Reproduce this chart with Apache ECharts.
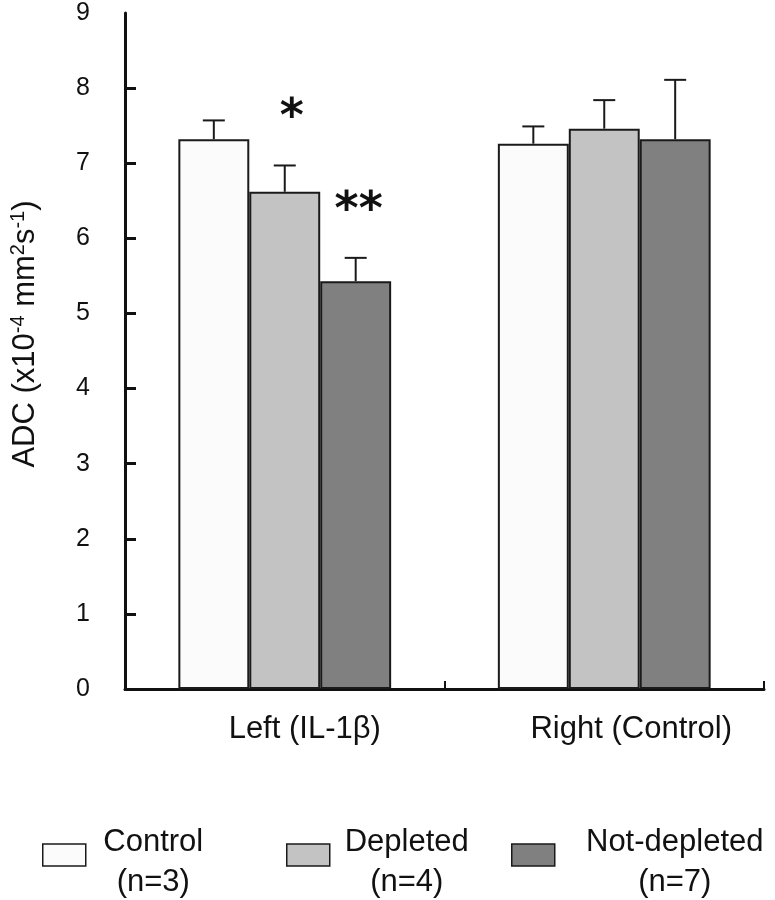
<!DOCTYPE html>
<html>
<head>
<meta charset="utf-8">
<script src="https://cdn.jsdelivr.net/npm/echarts@6/dist/echarts.min.js"></script>
<style>html,body{margin:0;padding:0;background:#fff}#c{width:775px;height:900px}</style>
</head>
<body>
<div id="c"></div>
<script>
// ---- data ----
const categories = ['Left (IL-1\u03b2)', 'Right (Control)'];
const seriesNames = ['Control', 'Depleted', 'Not-depleted'];
const groupSizes = ['(n=3)', '(n=4)', '(n=7)'];
const controlMean = [7.32, 7.26];
const controlErr = [0.25, 0.23];
const depletedMean = [6.62, 7.46];
const depletedErr = [0.35, 0.38];
const notDepletedMean = [5.43, 7.32];
const notDepletedErr = [0.31, 0.79];
const controlSig = ['', ''];
const depletedSig = ['*', ''];
const notDepletedSig = ['**', ''];
const yTicks = [0, 1, 2, 3, 4, 5, 6, 7, 8, 9];

const means = [controlMean, depletedMean, notDepletedMean];
const errs = [controlErr, depletedErr, notDepletedErr];
const sigs = [controlSig, depletedSig, notDepletedSig];
const colors = ['#fbfbfb', '#c3c3c3', '#808080'];
const FONT = '"Liberation Sans", Arial, sans-serif';
const BAR_FRAC = 0.222;

const chart = echarts.init(document.getElementById('c'), null, {renderer: 'canvas'});

const barSeries = seriesNames.map((name, i) => ({
  name: name,
  type: 'bar',
  data: means[i],
  barWidth: (BAR_FRAC * 100) + '%',
  barGap: '0%',
  itemStyle: {color: colors[i], borderColor: '#1a1a1a', borderWidth: 2},
  emphasis: {disabled: true},
  animation: false,
  z: 2
}));

const errSeries = seriesNames.map((name, k) => ({
  type: 'custom',
  name: name + ' err',
  animation: false,
  z: 5,
  data: means[k].map((m, j) => [j, m, errs[k][j]]),
  renderItem: function (params, api) {
    const cat = api.value(0), mean = api.value(1), err = api.value(2);
    const sig = sigs[k][params.dataIndex];
    const bw = api.size([1, 0])[0] * BAR_FRAC;
    const base = api.coord([cat, mean]);
    const top = api.coord([cat, mean + err])[1];
    const x = base[0] + (k - 1) * bw;
    const children = [
      {type: 'line', shape: {x1: x, y1: base[1], x2: x, y2: top}, style: {stroke: '#1a1a1a', lineWidth: 2}},
      {type: 'line', shape: {x1: x - 11, y1: top, x2: x + 11, y2: top}, style: {stroke: '#1a1a1a', lineWidth: 2}}
    ];
    if (sig) {
      children.push({type: 'text', x: x + (sig.length === 1 ? 7 : 3), y: top - 46, style: {text: sig, fill: '#111', font: 'bold 46px "DejaVu Sans", sans-serif', align: 'center', verticalAlign: 'middle'}});
    }
    return {type: 'group', children: children};
  }
}));

const legendLayout = [
  {left: 37, w: 125},
  {left: 281, w: 144},
  {left: 506, w: 230}
];
const legends = seriesNames.map((name, i) => ({
  data: [name],
  left: legendLayout[i].left,
  top: 805,
  orient: 'horizontal',
  icon: 'rect',
  itemWidth: 43,
  itemHeight: 22,
  selectedMode: false,
  itemStyle: {borderColor: '#1a1a1a', borderWidth: 1.5},
  formatter: () => '{e| }\n{t|' + name + '}\n{t|' + groupSizes[i] + '}',
  textStyle: {
    rich: {
      e: {fontFamily: FONT, fontSize: 10, width: legendLayout[i].w, lineHeight: 14},
      t: {fontFamily: FONT, fontSize: 31, color: '#111', width: legendLayout[i].w, align: 'center', lineHeight: 40}
    }
  }
}));

chart.setOption({
  animation: false,
  backgroundColor: '#fff',
  grid: {left: 120, right: 11, top: 13, bottom: 211, containLabel: false},
  legend: legends,
  xAxis: {
    type: 'category',
    data: categories,
    axisLine: {lineStyle: {color: '#111', width: 3}},
    axisTick: {show: true, inside: true, length: 8, lineStyle: {color: '#111', width: 2}},
    axisLabel: {
      margin: 25,
      formatter: (v, idx) => '{' + (idx === 0 ? 'l' : 'r') + '|' + v + '}',
      rich: {
        l: {fontFamily: FONT, fontSize: 31, color: '#111', padding: [0, 0, 0, 40]},
        r: {fontFamily: FONT, fontSize: 31, color: '#111', padding: [0, 0, 0, 54]}
      }
    },
    splitLine: {show: false}
  },
  yAxis: {
    type: 'value',
    min: 0,
    max: 9,
    interval: 1,
    name: '{a|ADC (x10}{s|-4}{a| mm}{s|2}{a|s}{s|-1}{a|)}',
    nameLocation: 'middle',
    nameRotate: 90,
    nameGap: 83,
    nameTextStyle: {
      padding: [0, 0, 0, 34],
      rich: {
        a: {fontFamily: FONT, fontSize: 31, color: '#111', lineHeight: 34},
        s: {fontFamily: FONT, fontSize: 20, color: '#111', lineHeight: 20, verticalAlign: 'top'}
      }
    },
    axisLine: {show: true, lineStyle: {color: '#111', width: 3}},
    axisTick: {show: true, inside: true, length: 11, customValues: yTicks.slice(1, 9), lineStyle: {color: '#111', width: 3}},
    axisLabel: {fontFamily: FONT, fontSize: 25, color: '#111', margin: 35, customValues: yTicks},
    splitLine: {show: false}
  },
  series: barSeries.concat(errSeries)
});
</script>
</body>
</html>
